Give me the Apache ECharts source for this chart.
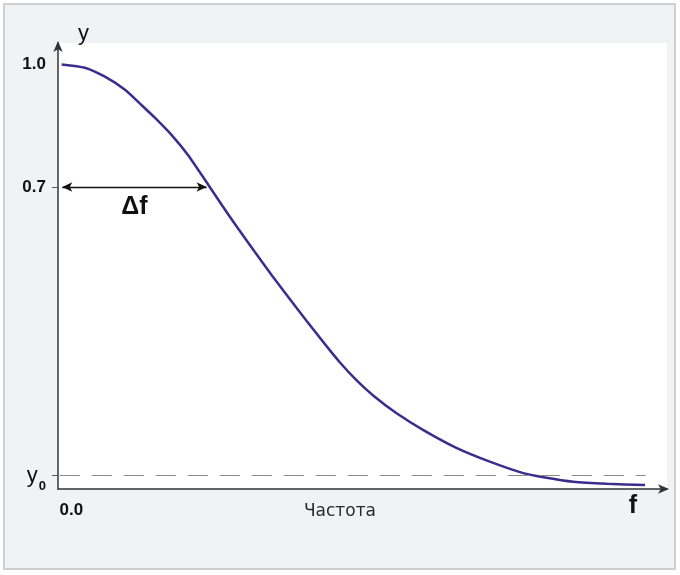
<!DOCTYPE html>
<html>
<head>
<meta charset="utf-8">
<script src="https://cdn.jsdelivr.net/npm/echarts@6/dist/echarts.min.js"></script>
<style>
  html, body { margin: 0; padding: 0; background: #ffffff; }
  #chart { width: 680px; height: 575px; }
</style>
</head>
<body>
<div id="chart"></div>
<script>
// Frequency response curve (y vs. f)
const curveF = [0.006, 0.044, 0.077, 0.110, 0.137, 0.159, 0.187, 0.214, 0.247, 0.269, 0.296, 0.323,
                0.351, 0.384, 0.408, 0.436, 0.463, 0.490, 0.518, 0.556, 0.600, 0.655, 0.709, 0.764,
                0.797, 0.846, 0.901, 0.964];
const curveY = [0.999, 0.991, 0.969, 0.937, 0.900, 0.869, 0.826, 0.777, 0.705, 0.656, 0.598, 0.542,
                0.485, 0.420, 0.374, 0.321, 0.272, 0.229, 0.191, 0.148, 0.107, 0.063, 0.030, 0.002,
                -0.008, -0.019, -0.024, -0.027];

const Y0 = -0.004;             // asymptote level y0
const levelHalf = 0.7;         // 0.7 level
const deltaF = [0.007, 0.244]; // Δf span at y = 0.7
const y0Span = [0.003, 0.965]; // dashed y0 line extent

const yTickValues = [1.0, 0.7, Y0];
const yTickLabels = ['1.0', '0.7', 'y0'];
const xTickValues = [0.022, 0.463, 0.944];
const xTickLabels = ['0.0', 'Частота', 'f'];

const SANS = 'Liberation Sans';

const chart = echarts.init(document.getElementById('chart'), null, { renderer: 'canvas' });

const option = {
  animation: false,
  backgroundColor: 'transparent',
  graphic: [{
    type: 'rect',
    z: -100,
    shape: { x: 4, y: 4, width: 671, height: 565 },
    style: { fill: '#f1f2f4', stroke: '#cfcfd1', lineWidth: 2 }
  }],
  grid: {
    left: 58, top: 43, right: 13, bottom: 86,
    show: true, backgroundColor: '#ffffff', borderWidth: 0
  },
  xAxis: {
    type: 'value', min: 0, max: 1,
    splitLine: { show: false },
    axisLine: { show: true, onZero: false, lineStyle: { color: '#333', width: 1.5 },
      symbol: ['none', 'arrow'], symbolSize: [7, 11], symbolOffset: [0, 2] },
    axisTick: { show: false },
    axisLabel: {
      customValues: xTickValues,
      margin: 13,
      formatter: function (v) {
        const i = xTickValues.indexOf(v);
        if (i === 0) return '{a|' + xTickLabels[0] + '}';
        if (i === 1) return '{b|' + xTickLabels[1] + '}';
        if (i === 2) return '{c|' + xTickLabels[2] + '}';
        return '';
      },
      rich: {
        a: { fontFamily: SANS, fontWeight: 'bold', fontSize: 17, color: '#111' },
        b: { fontFamily: 'DejaVu Sans', fontSize: 17, color: '#2a2a2a', padding: [1, 0, 0, 0] },
        c: { fontFamily: SANS, fontWeight: 'bold', fontSize: 25, color: '#111', padding: [-8, 0, 0, 0] }
      }
    }
  },
  yAxis: {
    type: 'value', min: -0.0366, max: 1.0512,
    name: 'y',
    nameLocation: 'end',
    nameGap: -2,
    nameTextStyle: { fontFamily: SANS, fontSize: 22, color: '#111', align: 'left', padding: [0, 0, 0, 20] },
    splitLine: { show: false },
    axisLine: { show: true, onZero: false, lineStyle: { color: '#333', width: 1.5 },
      symbol: ['none', 'arrow'], symbolSize: [7, 11], symbolOffset: [0, 2] },
    axisTick: { show: true, customValues: [0.7, Y0], length: 6, lineStyle: { color: '#555' } },
    axisLabel: {
      customValues: yTickValues,
      margin: 12,
      formatter: function (v) {
        const i = yTickValues.indexOf(v);
        if (i === 2) return '{y|y}{s|0}';
        if (i >= 0) return '{n|' + yTickLabels[i] + '}';
        return '';
      },
      rich: {
        n: { fontFamily: SANS, fontWeight: 'bold', fontSize: 17, color: '#111' },
        y: { fontFamily: SANS, fontSize: 22, color: '#111', verticalAlign: 'bottom' },
        s: { fontFamily: SANS, fontWeight: 'bold', fontSize: 13, color: '#111', verticalAlign: 'bottom', padding: [0, 0, -6, 1] }
      }
    }
  },
  series: [{
    type: 'line',
    data: curveF.map((f, i) => [f, curveY[i]]),
    smooth: 0.2,
    showSymbol: false,
    lineStyle: { color: '#3d2b8e', width: 2.5 },
    markLine: {
      silent: true,
      animation: false,
      data: [
        [
          { coord: [deltaF[0], levelHalf], symbol: 'arrow', symbolSize: [7, 10],
            lineStyle: { color: '#111', type: 'solid', width: 1.3 },
            label: { show: true, position: 'insideMiddleBottom', distance: 8, formatter: 'Δf',
              fontFamily: SANS, fontWeight: 'bold', fontSize: 25, color: '#111' } },
          { coord: [deltaF[1], levelHalf], symbol: 'arrow', symbolSize: [7, 10] }
        ],
        [
          { coord: [y0Span[0], Y0], symbol: 'none',
            lineStyle: { color: '#8a8a8a', type: [20, 12], width: 1 },
            label: { show: false } },
          { coord: [y0Span[1], Y0], symbol: 'none' }
        ]
      ]
    }
  }]
};

chart.setOption(option);
</script>
</body>
</html>
